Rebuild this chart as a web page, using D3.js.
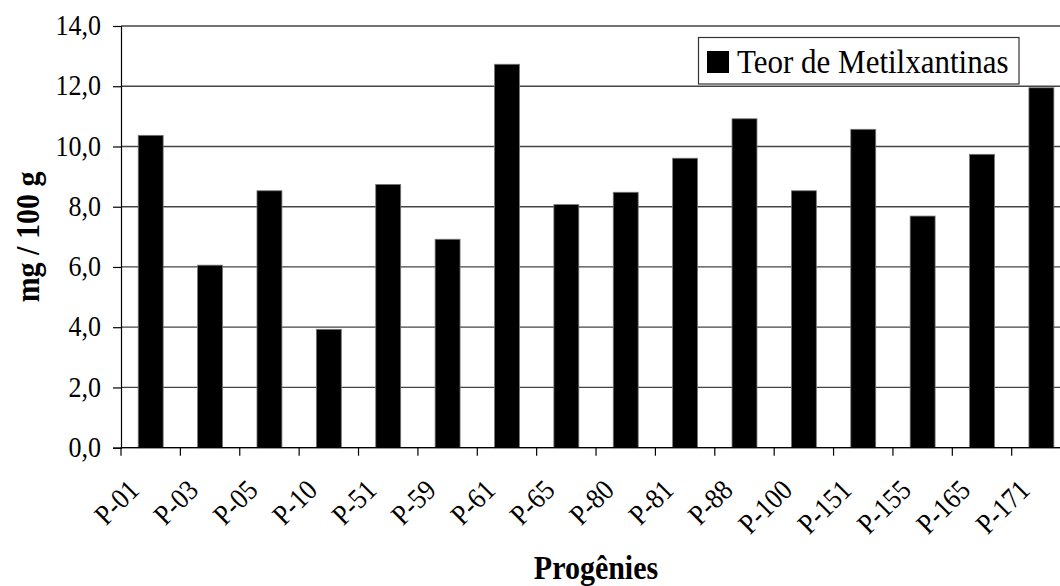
<!DOCTYPE html>
<html>
<head>
<meta charset="utf-8">
<script src="https://cdn.jsdelivr.net/npm/d3@7"></script>
<style>
  html, body { margin: 0; padding: 0; background: #fff; overflow: hidden; }
  svg { display: block; font-family: "Liberation Serif", "Times New Roman", serif; }
</style>
</head>
<body>
<svg id="chart" width="1060" height="586"></svg>
<script>
const categories = ["P-01","P-03","P-05","P-10","P-51","P-59","P-61","P-65","P-80","P-81","P-88","P-100","P-151","P-155","P-165","P-171"];
const values = [10.37, 6.06, 8.53, 3.93, 8.74, 6.92, 12.73, 8.07, 8.48, 9.61, 10.92, 8.53, 10.57, 7.69, 9.74, 11.95];
const yTicks = [0, 2, 4, 6, 8, 10, 12, 14];
const seriesName = "Teor de Metilxantinas";
const yTitle = "mg / 100 g";
const xTitle = "Progênies";

(function () {
const svg = d3.select("#chart");
const plotLeft = 121, plotTop = 26, plotBottom = 447.7, step = 59.38;
const plotRight = plotLeft + step * categories.length;
const stretch = 1.1;

const x = d3.scaleBand().domain(categories).range([plotLeft, plotRight]).padding(0);
const y = d3.scaleLinear().domain([0, 14]).range([plotBottom, plotTop]);
const fmt = v => d3.format(".1f")(v).replace(".", ",");

// gridlines
svg.append("g").selectAll("line").data(yTicks).join("line")
  .attr("x1", plotLeft).attr("x2", plotRight)
  .attr("y1", d => y(d)).attr("y2", d => y(d))
  .attr("stroke", "#444").attr("stroke-width", 1.3);

// bars
const barW = x.bandwidth() * 0.42;
svg.append("g").selectAll("rect").data(values).join("rect")
  .attr("x", (d, i) => x(categories[i]) + x.bandwidth() / 2 - barW / 2)
  .attr("width", barW)
  .attr("y", d => y(d))
  .attr("height", d => y(0) - y(d))
  .attr("fill", "#000")
  .attr("stroke", "#777").attr("stroke-width", 0.8);

// y axis
const yAxis = d3.axisLeft(y).tickValues(yTicks).tickFormat(fmt).tickSize(8).tickPadding(12);
const gy = svg.append("g").attr("transform", `translate(${plotLeft},0)`).call(yAxis);
gy.select(".domain").attr("stroke", "#000").attr("stroke-width", 1.2);
gy.selectAll(".tick line").attr("stroke", "#000").attr("stroke-width", 1.2);
gy.selectAll(".tick text").attr("font-size", 26).attr("fill", "#000")
  .attr("font-family", "Liberation Serif, Times New Roman, serif")
  .attr("dy", "0.3em")
  .attr("transform", `scale(1,${stretch})`);

// x axis (ticks between categories)
const boundaries = categories.map(c => x(c)).concat([plotRight]);
svg.append("line").attr("x1", plotLeft).attr("x2", plotRight).attr("y1", plotBottom).attr("y2", plotBottom)
  .attr("stroke", "#000").attr("stroke-width", 1.2);
svg.append("g").selectAll("line").data(boundaries).join("line")
  .attr("x1", d => d).attr("x2", d => d)
  .attr("y1", plotBottom).attr("y2", plotBottom + 8)
  .attr("stroke", "#000").attr("stroke-width", 1.2);

svg.append("g").selectAll("text").data(categories).join("text")
  .attr("transform", d => `translate(${x(d) + x.bandwidth() / 2 - 10},${plotBottom + 44}) rotate(-45) scale(1,${stretch})`)
  .attr("text-anchor", "end")
  .attr("font-size", 26)
  .attr("fill", "#000")
  .text(d => d);

// axis titles
svg.append("text")
  .attr("transform", `translate(39,237) rotate(-90) scale(1,${stretch})`)
  .attr("text-anchor", "middle")
  .attr("font-size", 30).attr("font-weight", "bold")
  .text(yTitle);

svg.append("text")
  .attr("transform", `translate(596,579) scale(1,${stretch})`)
  .attr("text-anchor", "middle")
  .attr("font-size", 30).attr("font-weight", "bold")
  .text(xTitle);

// legend
const lg = svg.append("g");
lg.append("rect").attr("x", 698.5).attr("y", 37.5).attr("width", 320.5).attr("height", 46.5)
  .attr("fill", "#fff").attr("stroke", "#333").attr("stroke-width", 1.2);
lg.append("rect").attr("x", 707).attr("y", 51).attr("width", 22).attr("height", 22).attr("fill", "#000");
lg.append("text").attr("transform", `translate(737,72.5) scale(1,${stretch})`)
  .attr("font-size", 31).attr("fill", "#000").text(seriesName);
})();
</script>
</body>
</html>
